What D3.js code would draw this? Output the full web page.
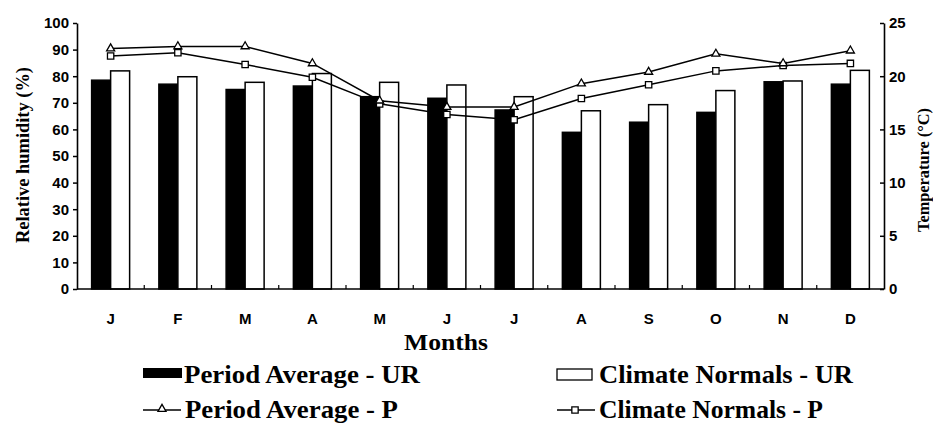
<!DOCTYPE html>
<html>
<head>
<meta charset="utf-8">
<script src="https://cdn.jsdelivr.net/npm/d3@7"></script>
<style>
  body { margin: 0; background: #fff; }
  .tick text { font-family: "Liberation Sans", Arial, sans-serif; font-weight: bold; font-size: 15px; fill: #000; }
  .serif { font-family: "Liberation Serif", "Times New Roman", Times, serif; font-weight: bold; fill: #000; }
</style>
</head>
<body>
<svg id="chart" width="933" height="426"></svg>
<script>
// Monthly relative humidity (%) and temperature (°C)
const months = ["J", "F", "M", "A", "M", "J", "J", "A", "S", "O", "N", "D"];
const periodUR = [78.5, 77.0, 75.0, 76.3, 72.3, 71.7, 67.3, 58.9, 62.7, 66.4, 77.9, 77.0];
const normalsUR = [82.0, 79.8, 77.7, 81.0, 77.7, 76.7, 72.3, 67.0, 69.3, 74.6, 78.2, 82.2];
const periodP = [22.6, 22.8, 22.8, 21.2, 17.7, 17.1, 17.1, 19.3, 20.4, 22.1, 21.2, 22.4];
const normalsP = [21.9, 22.2, 21.1, 19.9, 17.4, 16.4, 15.9, 17.9, 19.2, 20.5, 21.0, 21.2];
const humidityTicks = [0, 10, 20, 30, 40, 50, 60, 70, 80, 90, 100];
const tempTicks = [0, 5, 10, 15, 20, 25];

const svg = d3.select("#chart");
const plotL = 77, plotR = 884, plotT = 23, plotB = 289;

const x0 = d3.scaleBand().domain(d3.range(months.length))
  .range([plotL, plotR]).paddingInner(0.435).paddingOuter(0.2175);
const x1 = d3.scaleBand().domain(["period", "normals"]).range([0, x0.bandwidth()]);
const yL = d3.scaleLinear().domain([0, 100]).range([plotB, plotT]);
const yR = d3.scaleLinear().domain([0, 25]).range([plotB, plotT]);

// Bars
const groups = svg.append("g").selectAll("g").data(months).join("g")
  .attr("transform", (d, i) => `translate(${x0(i)},0)`);
groups.append("rect")
  .attr("x", x1("period")).attr("width", x1.bandwidth())
  .attr("y", (d, i) => yL(periodUR[i])).attr("height", (d, i) => plotB - yL(periodUR[i]))
  .attr("fill", "#000").attr("stroke", "#000").attr("stroke-width", 1.5);
groups.append("rect")
  .attr("x", x1("normals")).attr("width", x1.bandwidth())
  .attr("y", (d, i) => yL(normalsUR[i])).attr("height", (d, i) => plotB - yL(normalsUR[i]))
  .attr("fill", "#fff").attr("stroke", "#000").attr("stroke-width", 1.5);

// Temperature lines
const cx = i => x0(i) + x0.bandwidth() / 2;
const line = d3.line().x((d, i) => cx(i)).y(d => yR(d));
[periodP, normalsP].forEach(s => {
  svg.append("path").datum(s).attr("d", line)
    .attr("fill", "none").attr("stroke", "#000").attr("stroke-width", 1.5);
});
const tri = d3.symbol().type(d3.symbolTriangle).size(28);
const sq = d3.symbol().type(d3.symbolSquare).size(40);
svg.append("g").selectAll("path").data(normalsP).join("path")
  .attr("d", sq).attr("transform", (d, i) => `translate(${cx(i)},${yR(d)})`)
  .attr("fill", "#fff").attr("stroke", "#000").attr("stroke-width", 1.3);
svg.append("g").selectAll("path").data(periodP).join("path")
  .attr("d", tri).attr("transform", (d, i) => `translate(${cx(i)},${yR(d)})`)
  .attr("fill", "#fff").attr("stroke", "#000").attr("stroke-width", 1.3);

// Axes
const axL = svg.append("g").attr("transform", `translate(${plotL},0)`)
  .call(d3.axisLeft(yL).tickValues(humidityTicks).tickSizeInner(4).tickSizeOuter(0).tickPadding(4));
const axR = svg.append("g").attr("transform", `translate(${plotR},0)`)
  .call(d3.axisRight(yR).tickValues(tempTicks).tickSizeInner(-4).tickSizeOuter(0).tickPadding(5));
const axB = svg.append("g").attr("transform", `translate(0,${plotB})`)
  .call(d3.axisBottom(x0).tickFormat(i => months[i]).tickSize(0).tickPadding(24));
[axL, axR, axB].forEach(a => {
  a.selectAll(".domain").attr("stroke", "#000").attr("stroke-width", 1.6);
  a.selectAll(".tick line").attr("stroke", "#000").attr("stroke-width", 1.5);
});
axB.select(".domain").attr("d", `M${plotL},0H${plotR}`);

// Small inward ticks between month groups
svg.append("g").selectAll("line").data(d3.range(1, months.length)).join("line")
  .attr("x1", i => x0(i) - x0.step() * x0.paddingInner() / 2)
  .attr("x2", i => x0(i) - x0.step() * x0.paddingInner() / 2)
  .attr("y1", plotB).attr("y2", plotB - 4)
  .attr("stroke", "#000").attr("stroke-width", 1.2);

// Axis titles
svg.append("text").attr("class", "serif").attr("font-size", 19)
  .attr("text-anchor", "middle").attr("transform", "translate(29,155) rotate(-90)")
  .attr("textLength", 176).attr("lengthAdjust", "spacingAndGlyphs")
  .text("Relative humidity (%)");
svg.append("text").attr("class", "serif").attr("font-size", 17)
  .attr("text-anchor", "middle").attr("transform", "translate(929,170) rotate(-90)")
  .attr("textLength", 124).attr("lengthAdjust", "spacingAndGlyphs")
  .text("Temperature (°C)");
svg.append("text").attr("class", "serif").attr("font-size", 24)
  .attr("text-anchor", "middle").attr("x", 446).attr("y", 350)
  .attr("textLength", 84).attr("lengthAdjust", "spacingAndGlyphs")
  .text("Months");

// Legend
const legend = svg.append("g");
legend.append("rect").attr("x", 143).attr("y", 368).attr("width", 39).attr("height", 10)
  .attr("fill", "#000");
legend.append("rect").attr("x", 557).attr("y", 369).attr("width", 35).attr("height", 11)
  .attr("fill", "#fff").attr("stroke", "#000").attr("stroke-width", 1.3);
legend.append("line").attr("x1", 143).attr("x2", 181).attr("y1", 410).attr("y2", 410)
  .attr("stroke", "#000").attr("stroke-width", 1.3);
legend.append("path").attr("d", tri).attr("transform", "translate(162,409)")
  .attr("fill", "#fff").attr("stroke", "#000").attr("stroke-width", 1.3);
legend.append("line").attr("x1", 557).attr("x2", 595).attr("y1", 410).attr("y2", 410)
  .attr("stroke", "#000").attr("stroke-width", 1.3);
legend.append("path").attr("d", sq).attr("transform", "translate(575,410)")
  .attr("fill", "#fff").attr("stroke", "#000").attr("stroke-width", 1.3);
const legendText = [
  { x: 184, y: 383, w: 236, t: "Period Average - UR" },
  { x: 599, y: 383, w: 254, t: "Climate Normals - UR" },
  { x: 185, y: 418, w: 213, t: "Period Average - P" },
  { x: 599, y: 418, w: 224, t: "Climate Normals - P" }
];
legend.selectAll("text").data(legendText).join("text")
  .attr("class", "serif").attr("font-size", 25)
  .attr("x", d => d.x).attr("y", d => d.y)
  .attr("textLength", d => d.w).attr("lengthAdjust", "spacingAndGlyphs")
  .text(d => d.t);
</script>
</body>
</html>
